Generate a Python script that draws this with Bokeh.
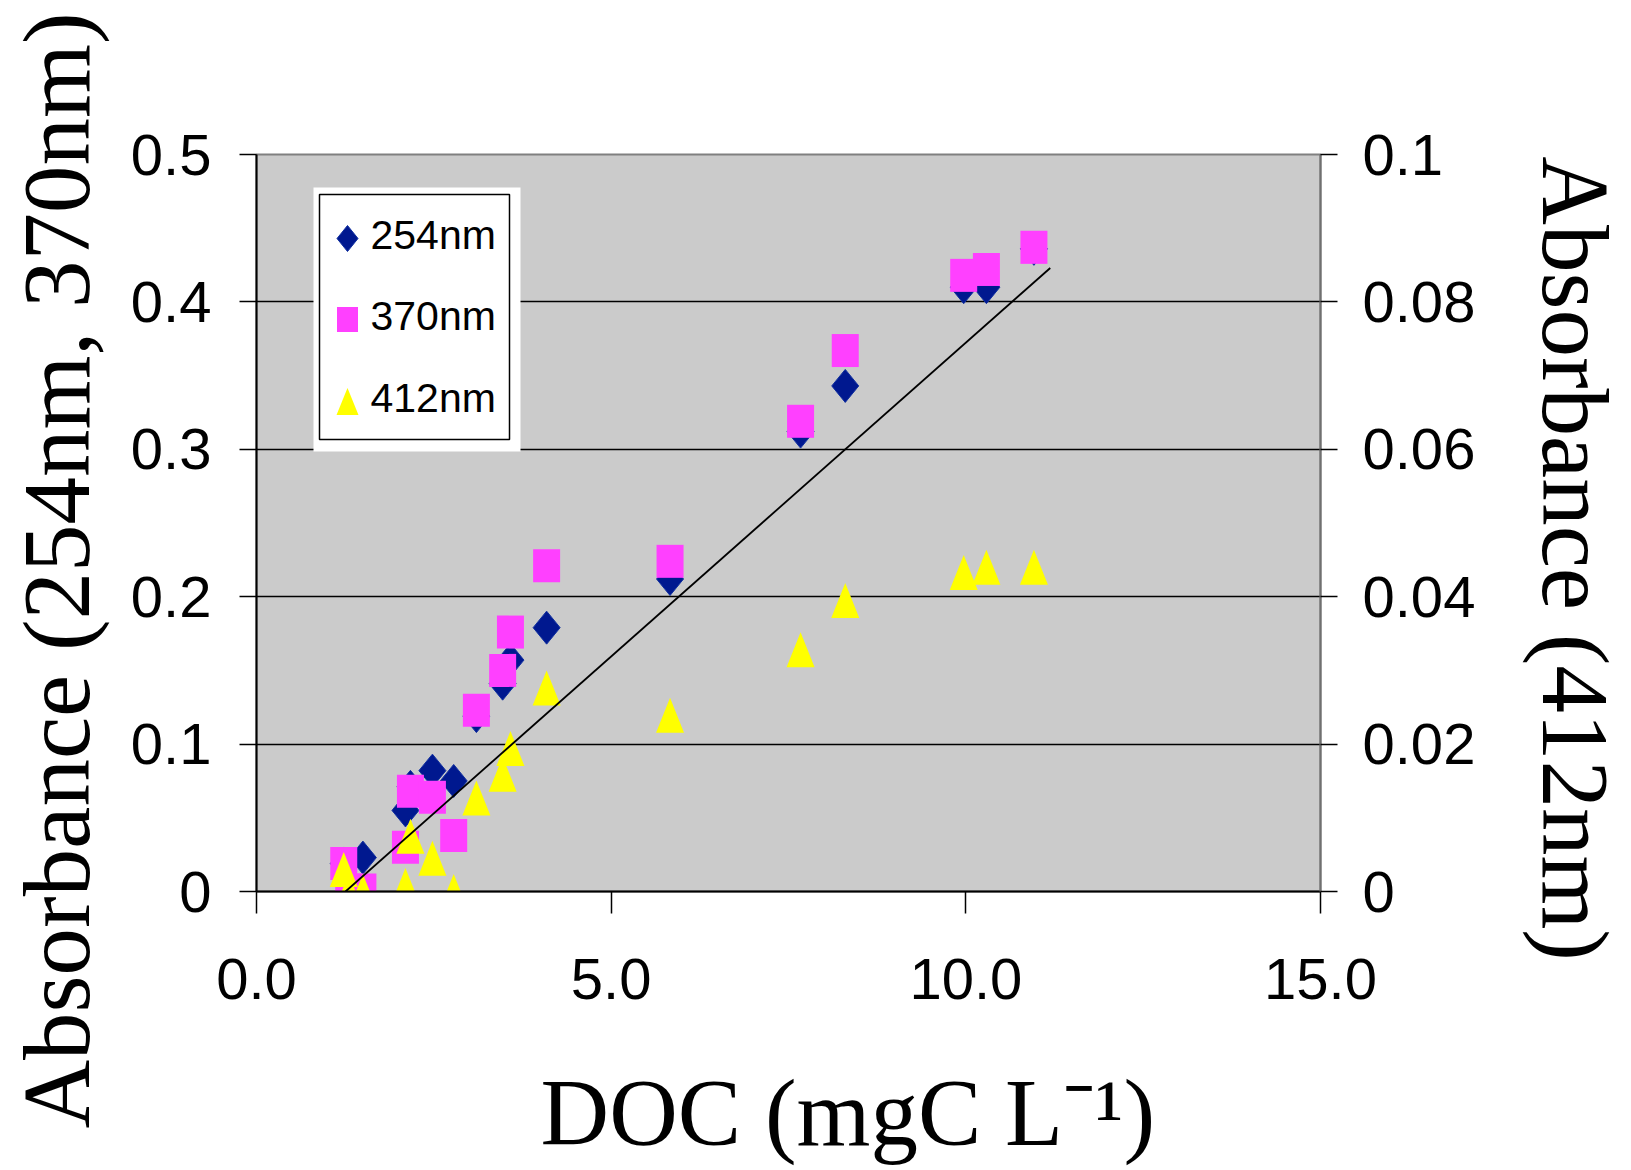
import numpy as np
from bokeh.plotting import figure
from bokeh.models import (Range1d, LinearAxis, FixedTicker, CustomJSTickFormatter,
                          PrintfTickFormatter)
from bokeh.core.properties import value
from bokeh.embed import file_html
from bokeh.resources import INLINE

# DOC concentration of each sample (mgC L-1)
doc = [1.23, 1.30, 1.50, 2.10, 2.17, 2.48, 2.78, 3.10, 3.47, 3.58,
       4.09, 5.83, 7.67, 8.30, 9.97, 10.29, 10.96]
# absorbance at 254 nm and 370 nm (left axis)
abs254 = [0.019, 0.004, 0.023, 0.055, 0.071, 0.082, 0.075, 0.119, 0.141, 0.157,
          0.179, 0.212, 0.312, 0.343, 0.410, 0.410, 0.436]
abs370 = [0.019, 0.001, 0.001, 0.030, 0.068, 0.064, 0.038, 0.123, 0.150, 0.176,
          0.221, 0.224, 0.319, 0.367, 0.418, 0.422, 0.437]
# absorbance at 412 nm (right axis)
abs412 = [0.0030, 0.0000, 0.0000, 0.0008, 0.0075, 0.0045, 0.0000, 0.0127, 0.0159, 0.0194,
          0.0276, 0.0239, 0.0328, 0.0395, 0.0433, 0.0440, 0.0440]

# linear trend line (left axis)
fit_x = [1.255, 11.19]
fit_y = [0.0, 0.423]

x_ticks = [0, 5, 10, 15]
left_ticks = [0, 0.1, 0.2, 0.3, 0.4, 0.5]
right_ticks = [0, 0.02, 0.04, 0.06, 0.08, 0.1]
grid_ticks = [0.1, 0.2, 0.3, 0.4]

series_names = ["254nm", "370nm", "412nm"]

C254 = "#00188F"
C370 = "#FF40FF"
C412 = "#FFFF00"

W, H = 1631, 1170
BL, BR, BT, BB = 256, 311, 154, 279
FW, FH = W - BL - BR, H - BT - BB
XMAX, YLMAX, YRMAX = 15.0, 0.5, 0.1
XU = XMAX / FW      # data units per pixel, x
YLU = YLMAX / FH    # per pixel, left axis
YRU = YRMAX / FH    # per pixel, right axis

SANS = "'Liberation Sans', Arial, sans-serif"
SERIF = "'Liberation Serif', 'Times New Roman', serif"
NB = "\u00a0"

p = figure(width=W, height=H,
           x_range=Range1d(0, XMAX), y_range=Range1d(0, YLMAX),
           min_border_left=BL, min_border_right=BR,
           min_border_top=BT, min_border_bottom=BB,
           output_backend="svg", toolbar_location=None,
           background_fill_color="#CBCBCB", border_fill_color="white",
           outline_line_color="#808080", outline_line_width=2)
p.extra_y_ranges = {"right": Range1d(0, YRMAX)}

num_fmt = CustomJSTickFormatter(code="return String(Math.round(tick * 1000) / 1000);")

xa = p.xaxis[0]
xa.ticker = FixedTicker(ticks=x_ticks)
xa.formatter = PrintfTickFormatter(format="%.1f")

ya = p.yaxis[0]
ya.ticker = FixedTicker(ticks=left_ticks)
ya.formatter = num_fmt

yr = LinearAxis(y_range_name="right", ticker=FixedTicker(ticks=right_ticks),
                formatter=num_fmt)
p.add_layout(yr, "right")

for ax, tick_out, standoff in ((xa, 22, 45), (ya, 17, 28), (yr, 17, 25)):
    ax.major_tick_out = tick_out
    ax.major_tick_in = 0
    ax.minor_tick_out = 0
    ax.minor_tick_in = 0
    ax.major_tick_line_color = "black"
    ax.major_tick_line_width = 1.5
    ax.axis_line_color = "black"
    ax.axis_line_width = 2
    ax.major_label_standoff = standoff
    ax.major_label_text_font = SANS
    ax.major_label_text_font_size = "58px"
    ax.major_label_text_color = "black"
    ax.axis_label_text_font = SERIF
    ax.axis_label_text_font_size = "95px"
    ax.axis_label_text_font_style = "normal"
    ax.axis_label_text_color = "black"
yr.axis_line_color = "#707070"

# axis titles (non-breaking spaces move each title along its axis)
xa.axis_label = NB * 5 + "DOC (mgC L\u207b\u00b9)"
xa.axis_label_standoff = 58
ya.axis_label = "Absorbance (254nm, 370nm)" + NB * 4
ya.axis_label_standoff = 18
yr.axis_label = NB * 3 + "Absorbance (412nm)"
yr.axis_label_standoff = 44

p.xgrid.visible = False
p.ygrid[0].ticker = FixedTicker(ticks=grid_ticks)
p.ygrid[0].grid_line_color = "black"
p.ygrid[0].grid_line_width = 1.3


def diamond_shapes(xs, ys, w, h, yu):
    hw, hh = w / 2 * XU, h / 2 * yu
    px = [[x - hw, x, x + hw, x] for x in xs]
    py = [[y, y + hh, y, y - hh] for y in ys]
    return px, py


def triangle_shapes(xs, ys, w, h, yu):
    hw, hh = w / 2 * XU, h / 2 * yu
    px = [[x - hw, x + hw, x] for x in xs]
    py = [[y - hh, y - hh, y + hh] for y in ys]
    return px, py


def square_shapes(xs, ys, w, h, yu):
    hw, hh = w / 2 * XU, h / 2 * yu
    px = [[x - hw, x + hw, x + hw, x - hw] for x in xs]
    py = [[y - hh, y - hh, y + hh, y + hh] for y in ys]
    return px, py


# data markers: 254 nm diamonds, 370 nm squares, 412 nm triangles
dx, dy = diamond_shapes(doc, abs254, 27, 33, YLU)
p.patches(dx, dy, fill_color=C254, line_color="#1030A0", line_width=1)
sx_, sy_ = square_shapes(doc, abs370, 27, 33, YLU)
p.patches(sx_, sy_, fill_color=C370, line_color=None)
tx, ty = triangle_shapes(doc, abs412, 28, 35, YRU)
p.patches(tx, ty, fill_color=C412, line_color=None, y_range_name="right")

# trend line
p.line(fit_x, fit_y, line_color="black", line_width=1.8)


# legend box, laid out in frame pixels (from the frame's top-left corner)
def fx(px):
    return px * XU


def fy(py):
    return YLMAX - py * YLU


p.quad(left=[fx(57)], right=[fx(264)], top=[fy(33)], bottom=[fy(297)],
       fill_color="white", line_color=None)
p.quad(left=[fx(63)], right=[fx(253)], top=[fy(40)], bottom=[fy(285)],
       fill_color=None, line_color="black", line_width=1.5)

mark_x = fx(91)
rows_y = [84, 165, 247]
ldx, ldy = diamond_shapes([mark_x], [fy(rows_y[0])], 21, 26, YLU)
p.patches(ldx, ldy, fill_color=C254, line_color="#1030A0", line_width=1)
lsx, lsy = square_shapes([mark_x], [fy(rows_y[1])], 21, 25, YLU)
p.patches(lsx, lsy, fill_color=C370, line_color=None)
ltx, lty = triangle_shapes([mark_x], [fy(rows_y[2])], 22, 27, YLU)
p.patches(ltx, lty, fill_color=C412, line_color=None)

p.text(x=[fx(114)] * 3, y=[fy(r - 4) for r in rows_y], text=series_names,
       text_font=value(SANS), text_font_size=value("41px"),
       text_baseline="middle", text_align="left", text_color="black")

open("out.html", "w").write(file_html(p, INLINE))
